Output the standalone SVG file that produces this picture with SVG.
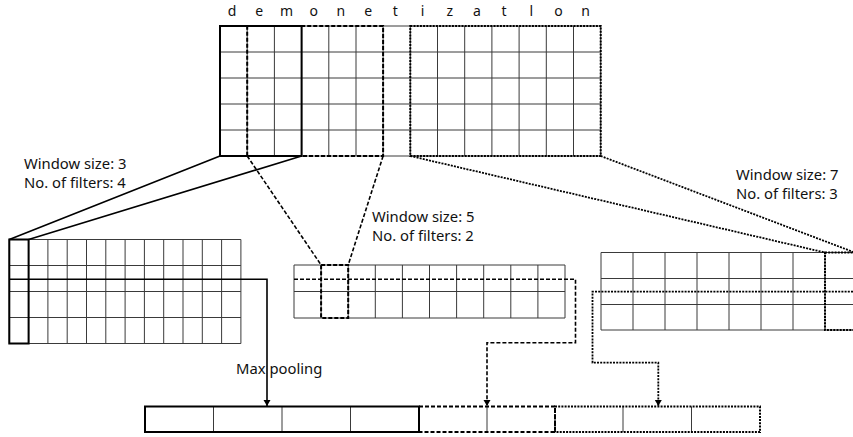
<svg xmlns="http://www.w3.org/2000/svg" width="853" height="437" viewBox="0 0 853 437">
<style>
.grid{fill:none;stroke:#3a3a3a;stroke-width:1}
.solid{fill:none;stroke:#000;stroke-width:2}
.dash{fill:none;stroke:#000;stroke-width:2;stroke-dasharray:4 2}
.dot{fill:none;stroke:#000;stroke-width:2;stroke-dasharray:2 1.2}
.c-solid{fill:none;stroke:#000;stroke-width:1.6}
.c-dash{fill:none;stroke:#000;stroke-width:1.6;stroke-dasharray:4 2}
.c-dot{fill:none;stroke:#000;stroke-width:1.8;stroke-dasharray:2 1.2}
.lbl{font-family:"Noto Sans","Open Sans",sans-serif;font-size:14.8px;fill:#111}
.ltr{font-family:"Noto Sans","Open Sans",sans-serif;font-size:14px;fill:#111;text-anchor:middle}
</style>
<defs>
<marker id="ah" markerUnits="userSpaceOnUse" markerWidth="8" markerHeight="8" refX="6" refY="3.5" orient="auto">
<path d="M0,0 L6,3.5 L0,7 Z" fill="#000"/>
</marker>
</defs>
<rect width="853" height="437" fill="#fff"/>

<g id="word">
<text class="ltr" x="232" y="16">d</text>
<text class="ltr" x="259.3" y="16">e</text>
<text class="ltr" x="286.5" y="16">m</text>
<text class="ltr" x="313.7" y="16">o</text>
<text class="ltr" x="340.9" y="16">n</text>
<text class="ltr" x="368.1" y="16">e</text>
<text class="ltr" x="395.3" y="16">t</text>
<text class="ltr" x="422.5" y="16">i</text>
<text class="ltr" x="449.7" y="16">z</text>
<text class="ltr" x="476.9" y="16">a</text>
<text class="ltr" x="504.1" y="16">t</text>
<text class="ltr" x="531.3" y="16">l</text>
<text class="ltr" x="558.5" y="16">o</text>
<text class="ltr" x="585.7" y="16">n</text>
</g>

<g id="embedding">
<path class="grid" d="M220,26H600.7M220,52H600.7M220,78H600.7M220,104H600.7M220,130H600.7M220,156H600.7
M220,26V156M247.2,26V156M274.4,26V156M301.6,26V156M328.8,26V156M356,26V156M383.1,26V156M410.3,26V156M437.5,26V156M464.7,26V156M491.9,26V156M519.1,26V156M546.3,26V156M573.5,26V156M600.7,26V156"/>
<rect class="solid" x="220" y="26" width="81.6" height="130"/>
<rect class="dash" x="247.2" y="26" width="135.9" height="130"/>
<rect class="dot" x="410.3" y="26" width="190.4" height="130"/>
</g>

<g id="conv3">
<path class="grid" d="M9.3,239.5H240.9M9.3,265.5H240.9M9.3,291.5H240.9M9.3,317.5H240.9M9.3,343.5H240.9
M9.3,239.5V343.5M28.6,239.5V343.5M47.9,239.5V343.5M67.2,239.5V343.5M86.5,239.5V343.5M105.8,239.5V343.5M125.1,239.5V343.5M144.4,239.5V343.5M163.7,239.5V343.5M183,239.5V343.5M202.3,239.5V343.5M221.6,239.5V343.5M240.9,239.5V343.5"/>
<rect class="solid" x="9.3" y="239.5" width="19.3" height="104"/>
</g>

<g id="conv5">
<path class="grid" d="M294,265H565M294,291.5H565M294,318H565
M294,265V318M321.1,265V318M348.2,265V318M375.3,265V318M402.4,265V318M429.5,265V318M456.6,265V318M483.7,265V318M510.8,265V318M537.9,265V318M565,265V318"/>
<rect class="dash" x="321.1" y="265" width="27.1" height="53"/>
</g>

<g id="conv7">
<path class="grid" d="M601,252.5H860M601,278.5H860M601,304.5H860M601,330H860
M601,252.5V330M633,252.5V330M665,252.5V330M697,252.5V330M729,252.5V330M761,252.5V330M793,252.5V330M825,252.5V330"/>
<rect class="dot" x="825" y="252.5" width="40" height="77.5"/>
</g>

<g id="pooled">
<path class="grid" d="M213.5,406.5V432M282,406.5V432M350.5,406.5V432M487,406.5V432M623,406.5V432M691.5,406.5V432"/>
<rect class="solid" x="145" y="406.5" width="274" height="25.5"/>
<rect class="dash" x="419" y="406.5" width="136" height="25.5"/>
<rect class="dot" x="555" y="406.5" width="205" height="25.5"/>
</g>

<g id="connectors">
<path class="c-solid" d="M220,156L9.3,239.5M301.6,156L28.6,239.5"/>
<path class="c-dash" d="M247.2,156L321.1,265M383.1,156L348.2,265"/>
<path class="c-dot" d="M410.3,156L825,252.5M600.7,156L856,253"/>
<path class="c-solid" d="M9.3,279.3H267V406" marker-end="url(#ah)"/>
<path class="c-dash" d="M294,279.3H575.5V342.7H487V406" marker-end="url(#ah)"/>
<path class="c-dot" d="M853,291.7H592.5V362.7H658.3V406" marker-end="url(#ah)"/>
</g>

<g id="labels">
<text class="lbl" x="24" y="169">Window size: 3</text>
<text class="lbl" x="24" y="188">No. of filters: 4</text>
<text class="lbl" x="372" y="222">Window size: 5</text>
<text class="lbl" x="372" y="241">No. of filters: 2</text>
<text class="lbl" x="736" y="180">Window size: 7</text>
<text class="lbl" x="736" y="199">No. of filters: 3</text>
<text class="lbl" x="236" y="374">Max pooling</text>
</g>
</svg>
